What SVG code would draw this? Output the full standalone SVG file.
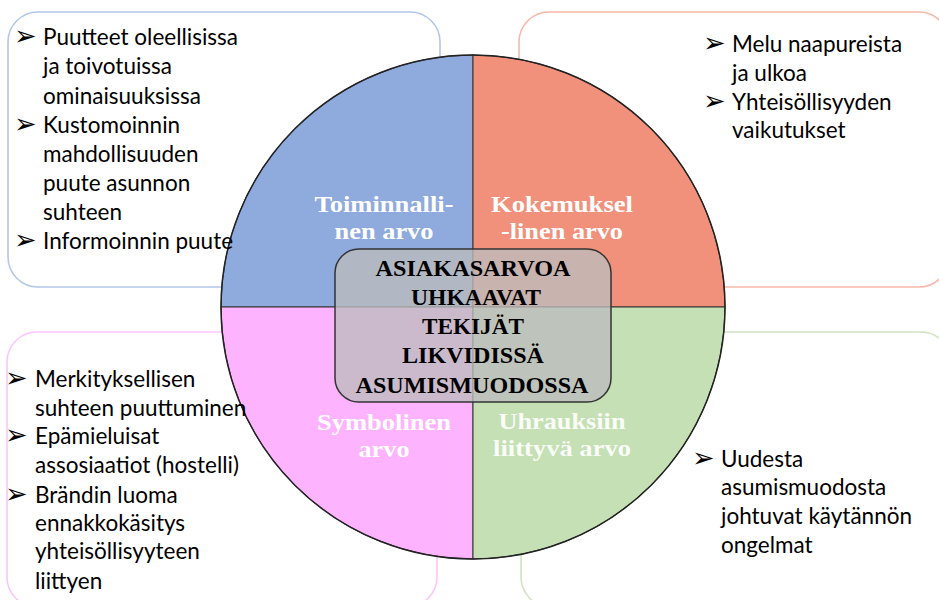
<svg xmlns="http://www.w3.org/2000/svg" width="939" height="600" viewBox="0 0 939 600">
<style>
.box{fill:#fff;stroke-width:1.6}
.bt{font-family:Lato,"Liberation Sans",sans-serif;font-size:22.5px;fill:#000}
.ar{font-family:"DejaVu Sans",sans-serif;font-size:27px;fill:#000}
.q{stroke:#333;stroke-width:1}
.ql{font-family:"Liberation Serif","Times New Roman",serif;font-weight:bold;font-size:24px;fill:#fff;text-anchor:middle}
.ct{font-family:"Liberation Serif","Times New Roman",serif;font-weight:bold;font-size:23px;fill:#000;text-anchor:middle}
</style>
<rect width="939" height="600" fill="#fff"/>
<g id="box-tl"><rect class="box" x="8" y="12" width="432" height="275" rx="30" stroke="#b4c7e7"/></g>
<g id="box-tr"><rect class="box" x="519" y="12" width="430" height="275" rx="30" stroke="#f6b8a8"/></g>
<g id="box-bl"><rect class="box" x="7" y="332" width="430" height="275" rx="30" stroke="#fbc6fb"/></g>
<g id="box-br"><rect class="box" x="521" y="332" width="430" height="275" rx="30" stroke="#cfe5c2"/></g>
<g id="circle">
<path class="q" d="M473 307 L221 307 A252 252 0 0 1 473 55 Z" fill="#8faadc"/>
<path class="q" d="M473 307 L473 55 A252 252 0 0 1 725 307 Z" fill="#f1917b"/>
<path class="q" d="M473 307 L473 559 A252 252 0 0 1 221 307 Z" fill="#fdb3fd"/>
<path class="q" d="M473 307 L725 307 A252 252 0 0 1 473 559 Z" fill="#c5e0b4"/>
<circle cx="473" cy="307" r="252" fill="none" stroke="#222" stroke-width="1.5"/>
<text class="ql" x="384" y="212" textLength="139" lengthAdjust="spacingAndGlyphs">Toiminnalli-</text>
<text class="ql" x="384" y="239" textLength="99" lengthAdjust="spacingAndGlyphs">nen arvo</text>
<text class="ql" x="562" y="212" textLength="142" lengthAdjust="spacingAndGlyphs">Kokemuksel</text>
<text class="ql" x="562" y="239" textLength="122" lengthAdjust="spacingAndGlyphs">-linen arvo</text>
<text class="ql" x="384" y="430" textLength="134" lengthAdjust="spacingAndGlyphs">Symbolinen</text>
<text class="ql" x="384" y="457" textLength="51" lengthAdjust="spacingAndGlyphs">arvo</text>
<text class="ql" x="562" y="429" textLength="127" lengthAdjust="spacingAndGlyphs" fill-opacity="0.92">Uhrauksiin</text>
<text class="ql" x="562" y="456" textLength="138" lengthAdjust="spacingAndGlyphs" fill-opacity="0.92">liittyvä arvo</text>
</g>
<g id="center">
<rect x="335" y="249" width="276" height="153" rx="24" fill="#bdbdbd" fill-opacity="0.78" stroke="#333" stroke-width="1.5"/>
<text class="ct" x="473" y="276" textLength="195" lengthAdjust="spacingAndGlyphs">ASIAKASARVOA</text>
<text class="ct" x="476" y="305" textLength="130" lengthAdjust="spacingAndGlyphs">UHKAAVAT</text>
<text class="ct" x="473" y="334" textLength="102" lengthAdjust="spacingAndGlyphs">TEKIJÄT</text>
<text class="ct" x="473" y="363" textLength="142" lengthAdjust="spacingAndGlyphs">LIKVIDISSÄ</text>
<text class="ct" x="472" y="393" textLength="233" lengthAdjust="spacingAndGlyphs">ASUMISMUODOSSA</text>
</g>
<g id="text-tl">
<text class="ar" x="14" y="45">➢</text>
<text class="ar" x="14" y="133">➢</text>
<text class="ar" x="14" y="249">➢</text>
<text class="bt" x="43" y="45">Puutteet oleellisissa</text>
<text class="bt" x="43" y="74">ja toivotuissa</text>
<text class="bt" x="43" y="104">ominaisuuksissa</text>
<text class="bt" x="43" y="133">Kustomoinnin</text>
<text class="bt" x="43" y="162">mahdollisuuden</text>
<text class="bt" x="43" y="191">puute asunnon</text>
<text class="bt" x="43" y="220">suhteen</text>
<text class="bt" x="43" y="249">Informoinnin puute</text>
</g>
<g id="text-tr">
<text class="ar" x="703" y="52">➢</text>
<text class="ar" x="703" y="110">➢</text>
<text class="bt" x="732" y="52">Melu naapureista</text>
<text class="bt" x="732" y="81">ja ulkoa</text>
<text class="bt" x="732" y="110">Yhteisöllisyyden</text>
<text class="bt" x="732" y="138">vaikutukset</text>
</g>
<g id="text-bl">
<text class="ar" x="5" y="387">➢</text>
<text class="ar" x="5" y="444">➢</text>
<text class="ar" x="5" y="503">➢</text>
<text class="bt" x="35" y="387">Merkityksellisen</text>
<text class="bt" x="35" y="416">suhteen puuttuminen</text>
<text class="bt" x="35" y="444">Epämieluisat</text>
<text class="bt" x="35" y="473">assosiaatiot (hostelli)</text>
<text class="bt" x="35" y="503">Brändin luoma</text>
<text class="bt" x="35" y="531">ennakkokäsitys</text>
<text class="bt" x="35" y="559">yhteisöllisyyteen</text>
<text class="bt" x="35" y="589">liittyen</text>
</g>
<g id="text-br">
<text class="ar" x="692" y="467">➢</text>
<text class="bt" x="721" y="467">Uudesta</text>
<text class="bt" x="721" y="495">asumismuodosta</text>
<text class="bt" x="721" y="524">johtuvat käytännön</text>
<text class="bt" x="721" y="553">ongelmat</text>
</g>
</svg>
